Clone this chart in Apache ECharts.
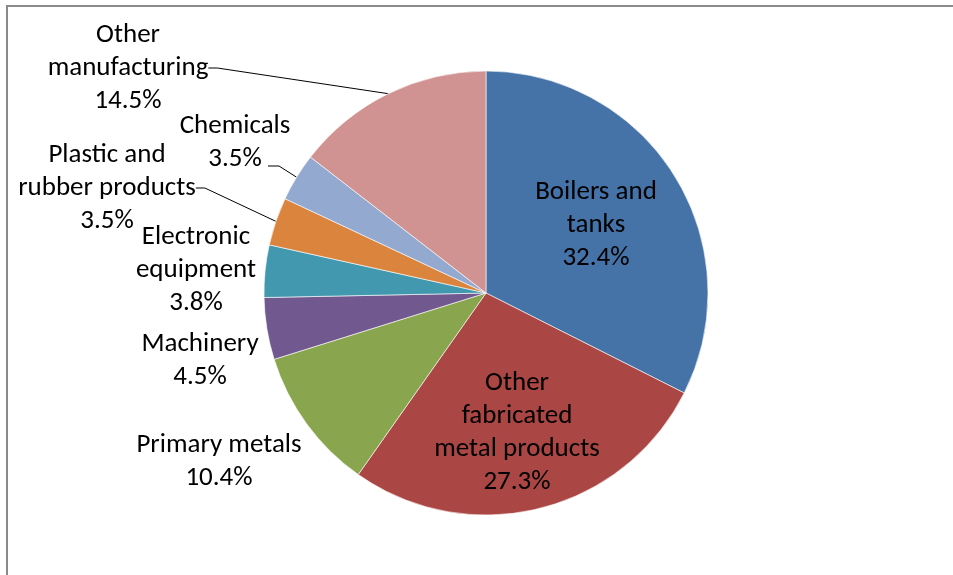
<!DOCTYPE html>
<html>
<head>
<meta charset="utf-8">
<script src="https://cdn.jsdelivr.net/npm/echarts@6/dist/echarts.min.js"></script>
<style>
html,body{margin:0;padding:0;background:#fff;}
#chart{width:953px;height:575px;}
</style>
</head>
<body>
<div id="chart"></div>
<script>
// Data
const categories = [
  'Boilers and\ntanks',
  'Other\nfabricated\nmetal products',
  'Primary metals',
  'Machinery',
  'Electronic\nequipment',
  'Plastic and\nrubber products',
  'Chemicals',
  'Other\nmanufacturing'
];
const shares = [32.4, 27.3, 10.4, 4.5, 3.8, 3.5, 3.5, 14.5];
const colors = ['#4572A7', '#AA4643', '#89A54E', '#71588F', '#4198AF', '#DB843D', '#93A9CF', '#D19392'];
const hasLeader = [false, false, false, false, false, true, true, true];
// label anchor positions (layout only)
const labelPos = [[596, 225], [517, 433], [219, 462], [200, 361], [196, 270], [107, 188], [235, 143], [128, 68]];

const chart = echarts.init(document.getElementById('chart'), null, {renderer: 'canvas'});
const data = categories.map((c, i) => ({
  name: c,
  value: shares[i],
  itemStyle: {color: colors[i]},
  labelLine: {show: hasLeader[i]}
}));

chart.setOption({
  animation: false,
  backgroundColor: '#fff',
  graphic: [{
    type: 'rect',
    shape: {x: 7, y: 6, width: 1200, height: 800},
    style: {fill: 'none', stroke: '#8a8a8a', lineWidth: 2}
  }],
  series: [{
    type: 'pie',
    center: [486, 293],
    radius: 222,
    startAngle: 90,
    clockwise: true,
    avoidLabelOverlap: false,
    data: data,
    itemStyle: {borderColor: '#ffffff', borderWidth: 0.6},
    label: {
      show: true,
      position: 'outside',
      color: '#000',
      fontFamily: 'Carlito, Liberation Sans',
      fontSize: 27,
      lineHeight: 33,
      align: 'center',
      formatter: p => p.name + '\n' + p.value.toFixed(1) + '%'
    },
    labelLine: {
      length: 10,
      length2: 9,
      lineStyle: {color: '#000', width: 1}
    },
    labelLayout: function (params) {
      const p = labelPos[params.dataIndex];
      const res = {x: p[0], y: p[1], align: 'center', verticalAlign: 'middle'};
      if (params.dataIndex === 6 && params.labelLinePoints) {
        // leader leaves from the end of the percentage line
        const end = params.labelLinePoints[0];
        res.labelLinePoints = [[p[0] + 33, p[1] + 23], [p[0] + 44, p[1] + 23], [end[0], end[1]]];
      }
      return res;
    },
    emphasis: {disabled: true}
  }]
});
</script>
</body>
</html>
